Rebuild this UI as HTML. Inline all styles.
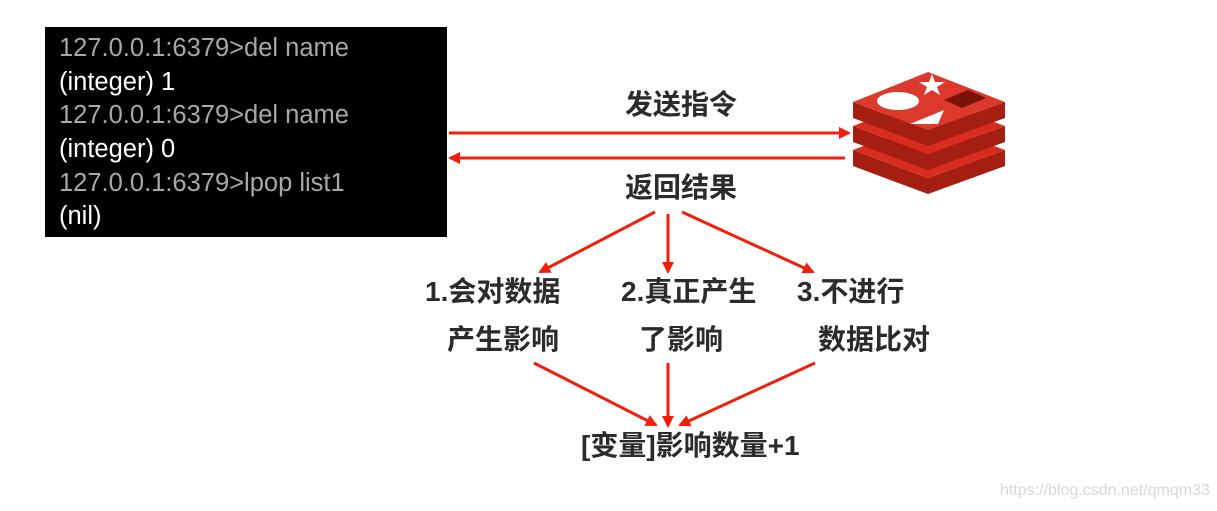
<!DOCTYPE html>
<html><head><meta charset="utf-8"><style>
html,body{margin:0;padding:0;background:#fff;}
body{width:1217px;height:511px;position:relative;overflow:hidden;font-family:"Liberation Sans","Noto Sans CJK SC",sans-serif;}
.term{position:absolute;left:45px;top:27px;width:402px;height:210px;background:#000;}
.term div{position:absolute;left:14px;font-size:25.5px;line-height:26px;}
.g{color:#a8a8a8}.w{color:#fff}
.t{position:absolute;font-weight:bold;font-size:28px;color:#2b2b2b;white-space:nowrap;line-height:32px;}
</style></head><body>
<div class="term">
<div class="g" style="top:8px">127.0.0.1:6379&gt;del name</div>
<div class="w" style="top:42px">(integer) 1</div>
<div class="g" style="top:75px">127.0.0.1:6379&gt;del name</div>
<div class="w" style="top:109px">(integer) 0</div>
<div class="g" style="top:143px">127.0.0.1:6379&gt;lpop list1</div>
<div class="w" style="top:176px">(nil)</div>
</div>
<svg width="1217" height="511" style="position:absolute;left:0;top:0">
<defs><marker id="a" markerWidth="12" markerHeight="12" refX="10" refY="6" orient="auto" markerUnits="userSpaceOnUse"><path d="M0,0 L12,6 L0,12 z" fill="#f01e0a"/></marker></defs>
<g stroke="#f01e0a" stroke-width="3" fill="none" marker-end="url(#a)">
<line x1="449" y1="133" x2="849" y2="133"/>
<line x1="845" y1="158" x2="450" y2="158"/>
<line x1="655" y1="212" x2="540" y2="272"/>
<line x1="668" y1="214" x2="668" y2="272"/>
<line x1="682" y1="212" x2="813" y2="272"/>
<line x1="534" y1="363" x2="656" y2="425"/>
<line x1="668" y1="363" x2="668" y2="426"/>
<line x1="815" y1="363" x2="680" y2="425"/>
</g>
<g>
<path d="M853,150 L928,178 L1005,150 L1005,166 L928,194 L853,166 z" fill="#a41e11"/>
<path d="M853,150 L928,122 L1005,150 L928,178 z" fill="#d82c20"/>
<path d="M853,126 L928,154 L1005,126 L1005,142 L928,170 L853,142 z" fill="#a41e11"/>
<path d="M853,126 L928,98 L1005,126 L928,154 z" fill="#d82c20"/>
<path d="M853,102 L928,130 L1005,102 L1005,118 L928,146 L853,118 z" fill="#a41e11"/>
<path d="M853,102 L928,72 L1005,102 L928,130 z" fill="#dc382c"/>
<ellipse cx="898" cy="101" rx="21" ry="9" fill="#fff"/>
<polygon points="932,74 935,82 945,82 937,87 940,95 932,90 924,95 927,87 919,82 929,82" fill="#fff"/>
<polygon points="910,124 944,110 938,124" fill="#fff"/>
<polygon points="944,100 968,90 986,98 962,108" fill="#7a1208"/>
</g>
</svg>
<div class="t" style="left:625px;top:89px">发送指令</div>
<div class="t" style="left:625px;top:172px">返回结果</div>
<div class="t" style="left:425px;top:276px">1.会对数据</div>
<div class="t" style="left:447px;top:324px">产生影响</div>
<div class="t" style="left:621px;top:276px">2.真正产生</div>
<div class="t" style="left:639px;top:324px">了影响</div>
<div class="t" style="left:797px;top:276px">3.不进行</div>
<div class="t" style="left:818px;top:324px">数据比对</div>
<div class="t" style="left:581px;top:430px">[变量]影响数量+1</div>
<div style="position:absolute;left:1000px;top:482px;font-size:16px;color:#d8d8d8;">https://blog.csdn.net/qmqm33</div>
</body></html>
